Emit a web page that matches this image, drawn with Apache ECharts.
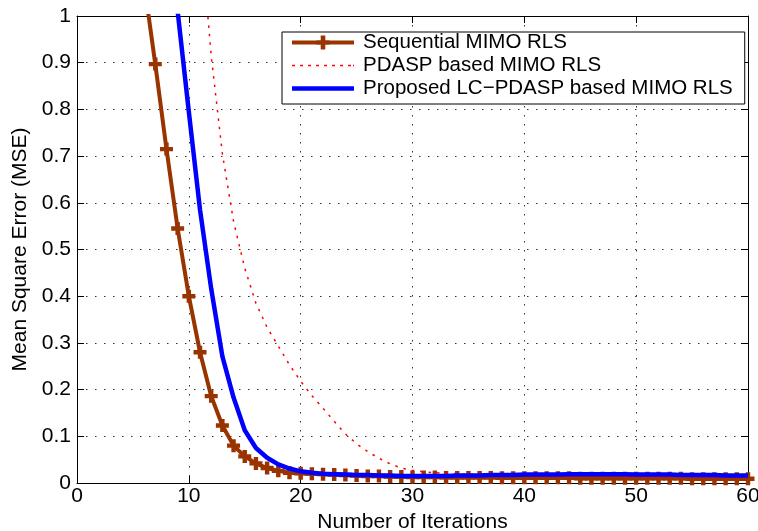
<!DOCTYPE html>
<html>
<head>
<meta charset="utf-8">
<script src="https://cdn.jsdelivr.net/npm/echarts@6/dist/echarts.min.js"></script>
<style>
html,body{margin:0;padding:0;background:#fff;}
#c{width:758px;height:531px;}
</style>
</head>
<body>
<div id="c"></div>
<script>
var iterations = [1,2,3,4,5,6,7,8,9,10,11,12,13,14,15,16,17,18,19,20,21,22,23,24,25,26,27,28,29,30,31,32,33,34,35,36,37,38,39,40,41,42,43,44,45,46,47,48,49,50,51,52,53,54,55,56,57,58,59,60];

var sequentialMSE = [3.2,2.6,2.1,1.7,1.35,1.07,0.897,0.715,0.545,0.400,0.280,0.186,0.123,0.080,0.057,0.042,0.032,0.026,0.022,0.021,0.020,0.019,0.018,0.017,0.016,0.015,0.015,0.014,0.014,0.013,0.013,0.013,0.012,0.012,0.012,0.012,0.012,0.011,0.011,0.011,0.011,0.011,0.011,0.011,0.010,0.010,0.010,0.010,0.010,0.010,0.010,0.010,0.010,0.010,0.009,0.009,0.009,0.009,0.009,0.009];

var pdaspMSE = [4.5,3.9,3.4,2.9,2.5,2.15,1.85,1.6,1.4,1.5,1.2,0.915,0.705,0.560,0.460,0.385,0.333,0.293,0.253,0.218,0.187,0.160,0.132,0.105,0.084,0.067,0.053,0.041,0.032,0.027,0.024,0.022,0.021,0.020,0.019,0.019,0.018,0.018,0.017,0.017,0.016,0.016,0.016,0.015,0.015,0.015,0.014,0.014,0.014,0.014,0.013,0.013,0.013,0.013,0.013,0.012,0.012,0.012,0.012,0.012];

var proposedMSE = [3.0,2.6,2.3,2.0,1.75,1.55,1.38,1.22,1.01,0.795,0.585,0.416,0.271,0.183,0.113,0.075,0.054,0.040,0.031,0.025,0.022,0.020,0.019,0.018,0.017,0.017,0.016,0.016,0.015,0.015,0.015,0.015,0.015,0.016,0.016,0.016,0.017,0.017,0.017,0.018,0.018,0.018,0.018,0.019,0.019,0.019,0.019,0.019,0.019,0.018,0.018,0.018,0.018,0.017,0.017,0.017,0.017,0.016,0.016,0.016];

var seriesNames = ['Sequential MIMO RLS', 'PDASP based MIMO RLS', 'Proposed LC\u2212PDASP based MIMO RLS'];
var xTitle = 'Number of Iterations';
var yTitle = 'Mean Square Error (MSE)';

function pairs(ys){ return iterations.map(function(x,i){ return [x, ys[i]]; }); }

var FONT = 'Liberation Sans, Arial, Helvetica, sans-serif';
var FS = 21;
var FSL = 20.5;
var plusPath = 'path://M3.3,0H6.7V3.3H10V6.7H6.7V10H3.3V6.7H0V3.3H3.3Z';
// legend sample icons (line sample with plus marker / dotted / solid)
var iconSeq = 'path://M0,5H24.5V9H0Z M37.5,5H62V9H37.5Z M24.5,4.7H28.7V0H33.3V4.7H37.5V9.3H33.3V14H28.7V9.3H24.5Z';
var iconDot = 'path://M0,0h3v1.5h-3z M8,0h3v1.5h-3z M16,0h3v1.5h-3z M24,0h3v1.5h-3z M32,0h3v1.5h-3z M40,0h3v1.5h-3z M48,0h3v1.5h-3z M56,0h3v1.5h-3z M61,0h1v1.5h-1z';
var iconSolid = 'path://M0,0H62V4.5H0Z';

var gridLine = {show:true, lineStyle:{color:'#333', width:1, type:[1.5,7.5]}};
var axLine = {show:true, onZero:false, lineStyle:{color:'#000', width:1}};
var tick = {show:true, inside:true, length:7, lineStyle:{color:'#000', width:1}};

var chart = echarts.init(document.getElementById('c'), null, {renderer:'canvas'});
chart.setOption({
  animation:false,
  backgroundColor:'#fff',
  textStyle:{fontFamily:FONT},
  grid:{left:77, right:10, top:16, bottom:48, containLabel:false, outerBoundsMode:'none'},
  legend:{
    orient:'vertical', left:282, top:32,
    padding:[0,12,5,10],
    itemWidth:62, itemHeight:14, itemGap:2,
    backgroundColor:'#fff', borderColor:'#000', borderWidth:1,
    textStyle:{fontFamily:FONT, fontSize:FSL, color:'#000', width:370, padding:[0,0,0,4]},
    data:[
      {name:seriesNames[0], icon:iconSeq, itemStyle:{color:'#993300'}},
      {name:seriesNames[1], icon:iconDot, itemStyle:{color:'#ff0000'}},
      {name:seriesNames[2], icon:iconSolid, itemStyle:{color:'#0000ff'}}
    ]
  },
  xAxis:[
    {type:'value', position:'bottom', min:0, max:60, interval:10,
     name:xTitle, nameLocation:'middle', nameGap:27,
     nameTextStyle:{fontFamily:FONT, fontSize:FS, color:'#000'},
     axisLine:axLine, axisTick:tick,
     axisLabel:{fontFamily:FONT, fontSize:FS, color:'#000', margin:3},
     splitLine:gridLine},
    {type:'value', position:'top', min:0, max:60, interval:10,
     axisLine:axLine, axisTick:tick, axisLabel:{show:false}, splitLine:{show:false}}
  ],
  yAxis:[
    {type:'value', position:'left', min:0, max:1, interval:0.1,
     name:yTitle, nameLocation:'middle', nameGap:45,
     nameTextStyle:{fontFamily:FONT, fontSize:FS, color:'#000'},
     axisLine:axLine, axisTick:tick,
     axisLabel:{fontFamily:FONT, fontSize:FS, color:'#000', margin:6},
     splitLine:gridLine},
    {type:'value', position:'right', min:0, max:1, interval:0.1,
     axisLine:axLine, axisTick:tick, axisLabel:{show:false}, splitLine:{show:false}}
  ],
  series:[
    {name:seriesNames[0], type:'line', data:pairs(sequentialMSE), clip:true,
     symbol:plusPath, symbolSize:13, showAllSymbol:true,
     itemStyle:{color:'#993300'}, lineStyle:{color:'#993300', width:4}, z:2},
    {name:seriesNames[1], type:'line', data:pairs(pdaspMSE), clip:true,
     symbol:'none', itemStyle:{color:'#ff0000'},
     lineStyle:{color:'#ff0000', width:1.5, type:[2.5,6]}, z:3},
    {name:seriesNames[2], type:'line', data:pairs(proposedMSE), clip:true,
     symbol:'none', itemStyle:{color:'#0000ff'},
     lineStyle:{color:'#0000ff', width:4.5}, z:4}
  ]
});
</script>
</body>
</html>
